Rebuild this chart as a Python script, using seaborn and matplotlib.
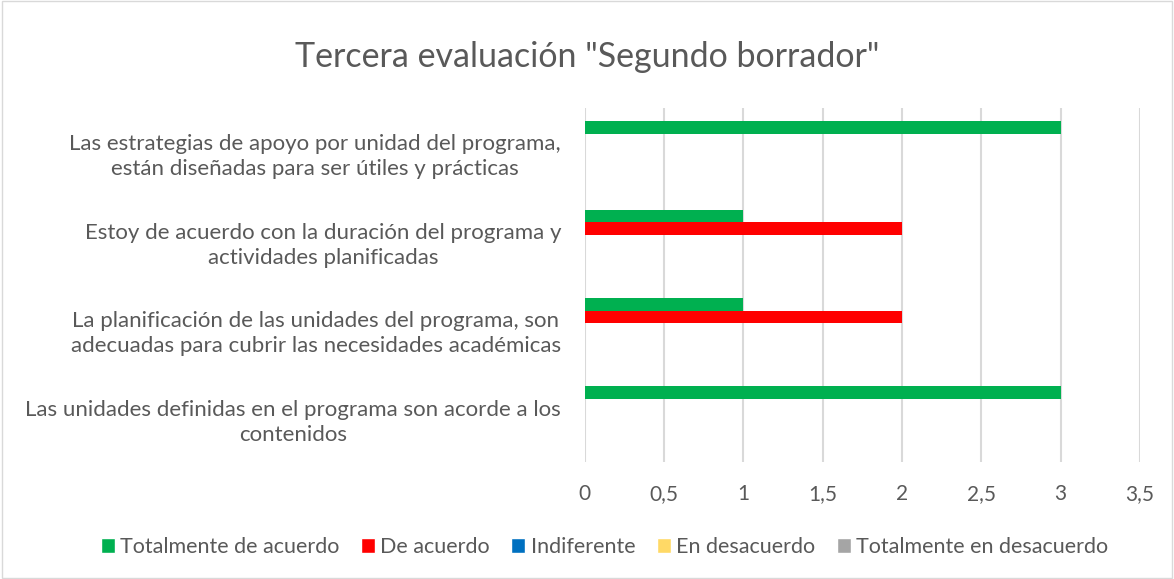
import pandas as pd
import numpy as np
import matplotlib.pyplot as plt
import seaborn as sns
from matplotlib.patches import Patch, Rectangle

# data (top to bottom)
categories = [
    "Las estrategias de apoyo por unidad del programa,\nestán diseñadas para ser útiles y prácticas",
    "Estoy de acuerdo con la duración del programa y\nactividades planificadas",
    "La planificación de las unidades del programa, son\nadecuadas para cubrir las necesidades académicas",
    "Las unidades definidas en el programa son acorde a los\ncontenidos",
]
series = ["Totalmente de acuerdo", "De acuerdo", "Indiferente", "En desacuerdo",
          "Totalmente en desacuerdo"]
totalmente_de_acuerdo = [3, 1, 1, 3]
de_acuerdo = [0, 2, 2, 0]
indiferente = [0, 0, 0, 0]
en_desacuerdo = [0, 0, 0, 0]
totalmente_en_desacuerdo = [0, 0, 0, 0]
x_ticks = [0, 0.5, 1, 1.5, 2, 2.5, 3, 3.5]
x_tick_labels = ["0", "0,5", "1", "1,5", "2", "2,5", "3", "3,5"]
colors = ["#00B050", "#FF0000", "#0070C0", "#FFD966", "#A5A5A5"]

rows = []
for s, vals in zip(series, [totalmente_de_acuerdo, de_acuerdo, indiferente,
                            en_desacuerdo, totalmente_en_desacuerdo]):
    for c, v in zip(categories, vals):
        rows.append({"categoria": c, "serie": s, "valor": v})
df = pd.DataFrame(rows)

sns.set_style("white")
plt.rcParams['font.family'] = ['Lato', 'DejaVu Sans']
txt = "#595959"

fig = plt.figure(figsize=(11.74, 5.79), dpi=100)
ax = fig.add_axes([0.498, 0.202, 0.473, 0.611])

sns.barplot(data=df, x="valor", y="categoria", hue="serie", order=categories,
            hue_order=series, palette=colors, width=0.71, orient="y",
            linewidth=0, saturation=1, ax=ax, legend=False)

ax.set_xlim(0, 3.5)
ax.set_xticks(x_ticks)
ax.set_xticklabels(x_tick_labels, fontsize=15, color=txt)
ax.tick_params(axis="x", length=0, pad=16)
ax.tick_params(axis="y", length=0, pad=17)
for lab in ax.get_yticklabels():
    lab.set_fontsize(16)
    lab.set_color(txt)
    lab.set_horizontalalignment("right")
    lab.set_multialignment("center")
    lab.set_linespacing(1.3)
ax.set_xlabel("")
ax.set_ylabel("")
ax.grid(axis="x", color="#D9D9D9", linewidth=1.5)
ax.set_axisbelow(True)
for sp in ax.spines.values():
    sp.set_visible(False)

fig.suptitle('Tercera evaluación "Segundo borrador"', fontsize=24.5, color=txt, y=0.93)

handles = [Patch(facecolor=c, label=s) for c, s in zip(colors, series)]
fig.legend(handles=handles, loc="center", bbox_to_anchor=(0.515, 0.055), ncol=5,
           frameon=False, fontsize=15.5, labelcolor=txt, handlelength=0.65,
           handleheight=0.65, handletextpad=0.25, columnspacing=1.0)

fig.patches.append(Rectangle((0.002, 0.002), 0.996, 0.996, transform=fig.transFigure,
                             fill=False, edgecolor="#D9D9D9", linewidth=1))

fig.savefig("out.png", dpi=100)
